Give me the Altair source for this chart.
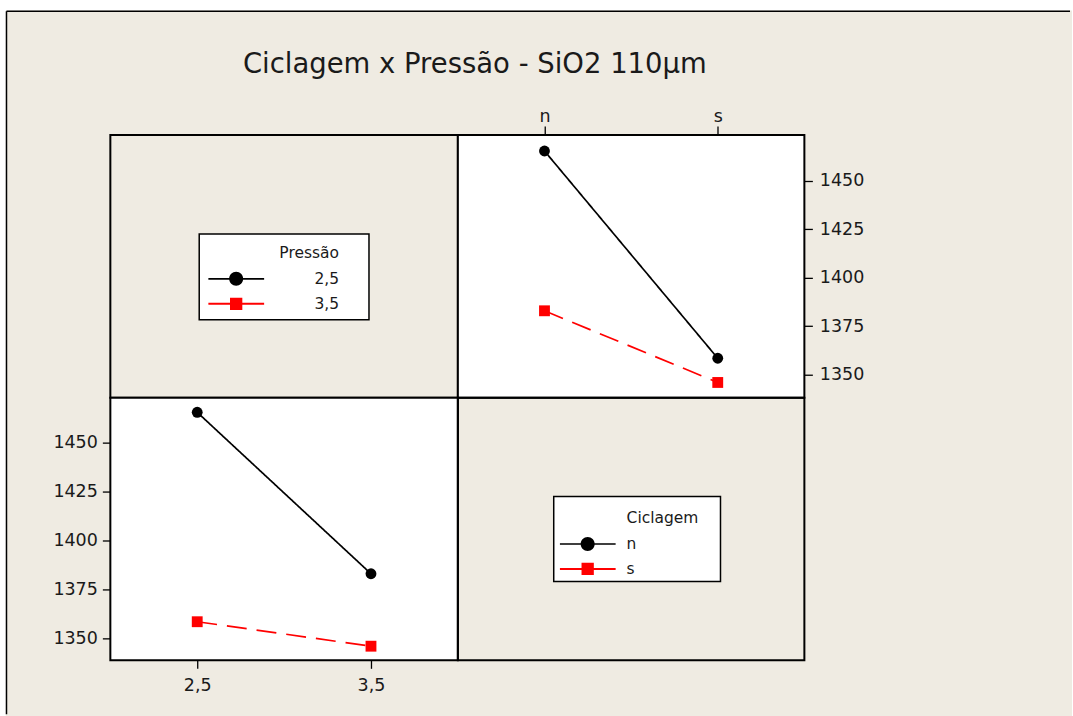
import altair as alt
import pandas as pd

# ---- data ----
ciclagem = ["n", "n", "s", "s"]
pressao = ["2,5", "3,5", "2,5", "3,5"]
media = [1465.5, 1383.0, 1358.5, 1346.0]
ciclagem_levels = ["n", "s"]
pressao_levels = ["2,5", "3,5"]
y_ticks = [1350, 1375, 1400, 1425, 1450]
title_text = "Ciclagem x Pressão - SiO2 110µm"
ciclagem_title = "Ciclagem"

df = pd.DataFrame({"Ciclagem": ciclagem, "Pressao": pressao, "Media": media})

BG = "#EFEBE2"
FONT = "DejaVu Sans"
TXT = "#1a1a1a"
W1, W2, H1, H2 = 348, 347, 263, 263

# legend symbols: line + marker, drawn inside a symbol box of sqrt(size) px
P_CIRCLE = ("M-1,-0.028H-0.24V0.028H-1Z M0.24,-0.028H1V0.028H0.24Z "
            "M-0.25,0A0.25,0.25 0 1,1 0.25,0A0.25,0.25 0 1,1 -0.25,0Z")
P_SQUARE = ("M-1,-0.036H-0.2V0.036H-1Z M0.2,-0.036H1V0.036H0.2Z "
            "M-0.22,-0.22H0.22V0.22H-0.22Z")


def axis(orient, tick, pad, values=None):
    kw = dict(orient=orient, title=None, domain=False, grid=False, ticks=True,
              tickColor="black", tickWidth=1.3, tickSize=tick, labelPadding=pad,
              labelFont=FONT, labelFontSize=17.5, labelColor=TXT, labelAngle=0)
    if values is not None:
        kw["values"] = values
        kw["format"] = "d"
    return alt.Axis(**kw)


def interaction(xfield, xlevels, gfield, glevels, ydomain, xaxis, yaxis, w, h):
    base = alt.Chart(df)
    x = alt.X(f"{xfield}:N", scale=alt.Scale(type="point", domain=xlevels, padding=0.5), axis=xaxis)
    y = alt.Y("Media:Q", scale=alt.Scale(domain=ydomain, nice=False, zero=False), axis=yaxis)
    color = alt.Color(f"{gfield}:N", scale=alt.Scale(domain=glevels, range=["#000000", "#FF0000"]), legend=None)
    lines = base.mark_line(strokeWidth=1.7).encode(
        x=x, y=y, color=color,
        strokeDash=alt.StrokeDash(f"{gfield}:N", scale=alt.Scale(domain=glevels, range=[[1, 0], [20, 10]]), legend=None),
    )
    pts = base.mark_point(filled=True, opacity=1, size=118).encode(
        x=x, y=y, color=color,
        shape=alt.Shape(f"{gfield}:N", scale=alt.Scale(domain=glevels, range=["circle", "square"]), legend=None),
    )
    return alt.layer(lines, pts).properties(
        width=w, height=h,
        view=alt.ViewBackground(fill="white", stroke="black", strokeWidth=2),
    )


def legend_layer(field, levels, title, lx, ly, label_align, label_offset):
    kw = dict(orient="none", legendX=lx, legendY=ly, padding=0,
              labelFont=FONT, labelFontSize=15.5, labelColor=TXT, labelAlign=label_align,
              labelOffset=label_offset, symbolSize=3136, symbolStrokeWidth=0,
              clipHeight=25, rowPadding=0, zindex=2)
    if title is not None:
        kw.update(title=title, titleFont=FONT, titleFontSize=15.5, titleFontWeight="normal",
                  titleColor=TXT, titleAnchor="end", titleAlign="right", titlePadding=5)
    else:
        kw["title"] = None
    leg = alt.Legend(**kw)
    return alt.Chart(df).transform_filter("false").mark_point(filled=True, opacity=1).encode(
        color=alt.Color(f"{field}:N", scale=alt.Scale(domain=levels, range=["#000000", "#FF0000"]), legend=leg),
        shape=alt.Shape(f"{field}:N", scale=alt.Scale(domain=levels, range=[P_CIRCLE, P_SQUARE]), legend=leg),
    )


decor = alt.Data(values=[{"k": 0}])

bg_rect = alt.Chart(decor).mark_rect(fill=BG).encode(
    x=alt.value(-104.75), x2=alt.value(963), y=alt.value(-124.75), y2=alt.value(582))
frame_v = alt.Chart(decor).mark_rule(color="black", strokeWidth=1.5).encode(
    x=alt.value(-104), y=alt.value(-124), y2=alt.value(580))
frame_h = alt.Chart(decor).mark_rule(color="black", strokeWidth=1.5).encode(
    x=alt.value(-104), x2=alt.value(961), y=alt.value(-124))
title = alt.Chart(decor).mark_text(
    text=title_text, font=FONT, fontSize=27.5, color=TXT, align="center", baseline="alphabetic"
).encode(x=alt.value(365), y=alt.value(-62.5))
border_tl = alt.Chart(decor).mark_rect(fill="transparent", stroke="black", strokeWidth=2).encode(
    x=alt.value(0), x2=alt.value(W1), y=alt.value(0), y2=alt.value(H1))
box_p = alt.Chart(decor).mark_rect(fill="white", stroke="black", strokeWidth=1.5).encode(
    x=alt.value(89), x2=alt.value(259), y=alt.value(99), y2=alt.value(185))
leg_p = legend_layer("Pressao", pressao_levels, "Pressão", 98, 111, "right", 75)

tl = alt.layer(bg_rect, frame_v, frame_h, title, border_tl, box_p, leg_p).properties(
    width=W1, height=H1, view=alt.ViewBackground(fill="transparent", stroke="transparent"))

tr = interaction("Ciclagem", ciclagem_levels, "Pressao", pressao_levels, [1338.14, 1473.71],
                 axis("top", 9, 1), axis("right", 8, 7, y_ticks), W2, H1)

bl = interaction("Pressao", pressao_levels, "Ciclagem", ciclagem_levels, [1338.78, 1472.96],
                 axis("bottom", 8, 8), axis("left", 8, 5, y_ticks), W1, H2)

box_c = alt.Chart(decor).mark_rect(fill="white", stroke="black", strokeWidth=1.5).encode(
    x=alt.value(96), x2=alt.value(263), y=alt.value(99), y2=alt.value(184))
title_c = alt.Chart(decor).mark_text(
    text=ciclagem_title, font=FONT, fontSize=15.5, color=TXT, align="left", baseline="alphabetic"
).encode(x=alt.value(169), y=alt.value(125))
leg_c = legend_layer("Ciclagem", ciclagem_levels, None, 102, 134, "left", 11)
br = alt.layer(box_c, title_c, leg_c).properties(
    width=W2, height=H2, view=alt.ViewBackground(fill="transparent", stroke="black", strokeWidth=2))

chart = alt.concat(tl, tr, bl, br, columns=2, spacing=0, bounds="flush").resolve_scale(
    color="independent", shape="independent", strokeDash="independent", x="independent", y="independent"
).properties(
    padding={"left": 4.5, "top": 8.75, "right": 0, "bottom": 0}, background="white"
)

chart.save("out.html", embed_options={"renderer": "svg", "actions": False})
